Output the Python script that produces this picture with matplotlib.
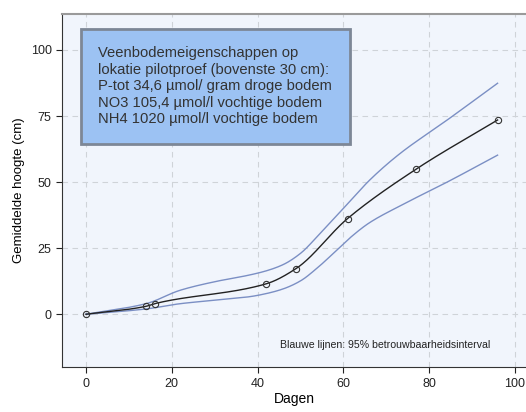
#!/usr/bin/env python3

import numpy as np
import matplotlib.pyplot as plt

#------------------------------------------------------------------------

# measured mean height per day
dagen = [0, 14, 16, 42, 49, 61, 77, 96]
hoogte = [0, 3.0, 4.0, 11.5, 17.3, 36.2, 54.9, 73.5]

# 95% confidence band, read at its own days
ci_dagen = [0, 14, 22, 30, 38, 42, 46, 50, 54, 58, 62, 66, 73, 84, 96]
ci_boven = [0, 4.0, 9.1, 12.3, 14.8, 16.4, 18.8, 23.0, 29.5, 36.5, 43.5, 50.5, 60.5, 73.2, 87.4]
ci_onder = [0, 2.0, 4.0, 5.3, 6.6, 7.8, 9.6, 12.6, 17.6, 23.5, 29.5, 34.5, 40.8, 49.8, 60.2]

xticks = [0, 20, 40, 60, 80, 100]
yticks = [0, 25, 50, 75, 100]

info = ("Veenbodemeigenschappen op\n"
        "lokatie pilotproef (bovenste 30 cm):\n"
        "P-tot 34,6 \u00b5mol/ gram droge bodem\n"
        "NO3 105,4 \u00b5mol/l vochtige bodem\n"
        "NH4 1020 \u00b5mol/l vochtige bodem")

#------------------------------------------------------------------------

def smooth(x, y, n=400):
    # monotone cubic (Fritsch-Carlson), only used to draw smooth lines
    x = np.asarray(x, float)
    y = np.asarray(y, float)
    h = np.diff(x)
    d = np.diff(y) / h
    m = np.zeros_like(y)
    for i in range(1, len(x) - 1):
        if d[i - 1] * d[i] > 0:
            w1 = 2 * h[i] + h[i - 1]
            w2 = h[i] + 2 * h[i - 1]
            m[i] = (w1 + w2) / (w1 / d[i - 1] + w2 / d[i])
    m[0] = d[0]
    m[-1] = d[-1]
    xs = np.linspace(x[0], x[-1], n)
    j = np.clip(np.searchsorted(x, xs) - 1, 0, len(x) - 2)
    t = (xs - x[j]) / h[j]
    h00 = 2 * t**3 - 3 * t**2 + 1
    h10 = t**3 - 2 * t**2 + t
    h01 = -2 * t**3 + 3 * t**2
    h11 = t**3 - t**2
    ys = h00 * y[j] + h10 * h[j] * m[j] + h01 * y[j + 1] + h11 * h[j] * m[j + 1]
    return xs, ys

#------------------------------------------------------------------------

def main():
    plt.rcParams['font.family'] = ['Liberation Sans', 'DejaVu Sans']

    fig = plt.figure(figsize=(5.26, 4.12), dpi=100)
    ax = fig.add_axes([0.118, 0.109, 0.885, 0.857])
    ax.set_facecolor('#f1f5fc')

    blauw = '#7b8fc4'
    for ys in (ci_boven, ci_onder):
        sx, sy = smooth(ci_dagen, ys)
        ax.plot(sx, sy, color=blauw, lw=1.0, zorder=3)

    sx, sy = smooth(dagen, hoogte)
    ax.plot(sx, sy, color='#222222', lw=1.0, zorder=4)
    ax.plot(dagen, hoogte, 'o', ms=4.5, mfc='none', mec='#333333', mew=0.8, zorder=5)

    ax.set_xlim(-5.6, 103)
    ax.set_ylim(-20, 113.6)
    ax.set_xticks(xticks)
    ax.set_yticks(yticks)
    ax.grid(True, color='#cfd3d8', ls=(0, (5, 4)), lw=0.8)
    ax.set_axisbelow(True)

    ax.tick_params(axis='both', labelsize=9, colors='#222222', length=4, width=0.8,
                   direction='out')
    ax.tick_params(top=False, right=False)
    ax.spines['left'].set_color('#333333')
    ax.spines['bottom'].set_color('#333333')
    ax.spines['top'].set_color('#9a9a9a')
    ax.spines['top'].set_linewidth(1.5)
    ax.spines['right'].set_visible(False)

    ax.set_xlabel('Dagen', fontsize=10, labelpad=2)
    ax.set_ylabel('Gemiddelde hoogte (cm)', fontsize=9.5, labelpad=4)

    # info box
    box = dict(boxstyle='square,pad=1.2', fc='#9cc2f3', ec='#7d8796', lw=2.0)
    ax.text(0.078, 0.908, info, transform=ax.transAxes, fontsize=10.6, color='#333333',
            va='top', ha='left', linespacing=1.22, bbox=box, zorder=6)

    ax.text(0.469, 0.055, 'Blauwe lijnen: 95% betrouwbaarheidsinterval',
            transform=ax.transAxes, fontsize=7.6, color='#222222', zorder=6)

    plt.savefig('out.png', dpi=100)

#------------------------------------------------------------------------

if __name__ == "__main__":
    main()
